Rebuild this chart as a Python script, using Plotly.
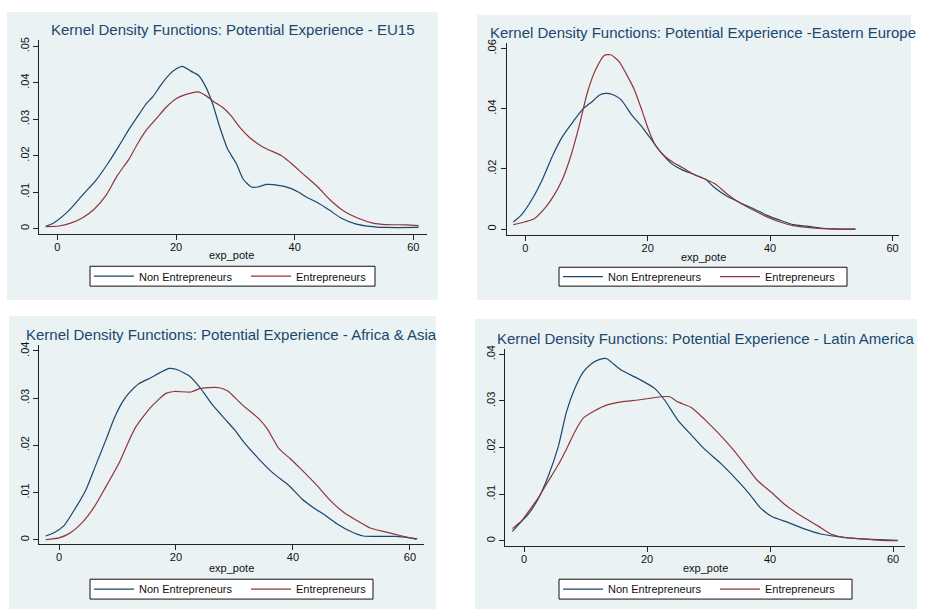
import plotly.graph_objects as go

W, H = 926, 610

# ---------------- data ----------------
panel_titles = [
    "Kernel Density Functions: Potential Experience - EU15",
    "Kernel Density Functions: Potential Experience -Eastern Europe",
    "Kernel Density Functions: Potential Experience - Africa & Asia",
    "Kernel Density Functions: Potential Experience - Latin America",
]
series_names = ["Non Entrepreneurs", "Entrepreneurs"]
x_label = "exp_pote"
x_ticks = [0, 20, 40, 60]
x_tick_text = ["0", "20", "40", "60"]
y_ticks_a = [0, 0.01, 0.02, 0.03, 0.04, 0.05]
y_tick_text_a = ["0", ".01", ".02", ".03", ".04", ".05"]
y_ticks_b = [0, 0.02, 0.04, 0.06]
y_tick_text_b = ["0", ".02", ".04", ".06"]
y_ticks_c = [0, 0.01, 0.02, 0.03, 0.04]
y_tick_text_c = ["0", ".01", ".02", ".03", ".04"]

eu15_non_x = [-1.97, -0.56, 1.97, 4.2, 6.5, 8.45, 10.4, 12.1, 13.8, 14.9, 16.1, 17.5, 18.9, 20.0, 21.1,
              22.5, 23.8, 25.1, 26.2, 27.3, 28.7, 30.2, 31.3, 32.7, 33.8, 35.2, 37.5, 39.2, 40.6, 42.0,
              43.9, 45.9, 47.8, 50.4, 52.6, 55.4, 60.9]
eu15_non_y = [.0006, .0016, .0050, .0091, .0132, .0177, .0227, .0273, .0314, .0341, .0362, .0395, .0423,
              .0438, .0445, .0432, .0420, .0386, .0341, .0282, .0218, .0177, .0136, .0114, .0114, .0121,
              .0118, .0111, .0100, .0086, .0071, .0050, .0029, .0012, .0006, .0003, .0003]
eu15_ent_x = [-1.97, 0.28, 2.25, 4.2, 6.2, 8.2, 10.1, 12.1, 13.5, 14.9, 16.6, 18.3, 20.0, 21.7, 23.7,
              25.1, 26.2, 27.9, 29.3, 30.8, 32.4, 34.7, 37.8, 39.4, 41.4, 43.9, 46.2, 48.4, 50.6, 53.2,
              55.4, 58.8, 60.9]
eu15_ent_y = [.0005, .0007, .0015, .0029, .0053, .0091, .0145, .0191, .0232, .0268, .0300, .0332, .0356,
              .0368, .0375, .0364, .0350, .0332, .0309, .0277, .0250, .0223, .0200, .0179, .0150, .0114,
              .0075, .0047, .0029, .0015, .0011, .0010, .0008]

ee_non_x = [-1.96, -0.71, 1.2, 2.83, 4.46, 6.09, 7.7, 9.35, 11.0, 12.07, 13.15, 14.24, 15.6, 17.5, 18.86,
            20.76, 22.4, 24.0, 25.65, 27.3, 29.5, 30.7, 32.9, 35.1, 37.3, 39.5, 41.6, 43.8, 46.0, 48.2,
            50.4, 53.95]
ee_non_y = [.0024, .0046, .0103, .0167, .0244, .0308, .0354, .0398, .0425, .0445, .0451, .0447, .0431,
            .0376, .0345, .0293, .0249, .0216, .0197, .0184, .0165, .0142, .0110, .0088, .0068, .0046,
            .0030, .0015, .0010, .0004, .0001, .0000]
ee_ent_x = [-1.96, -0.16, 1.47, 3.37, 4.73, 6.09, 7.45, 8.8, 10.2, 11.5, 12.9, 13.97, 15.3, 16.4, 17.8,
            19.1, 20.2, 21.3, 22.7, 24.3, 25.65, 27.3, 29.5, 31.0, 32.9, 35.1, 37.3, 39.5, 41.6, 43.8,
            46.5, 49.3, 53.95]
ee_ent_y = [.0015, .0024, .0035, .0074, .0114, .0167, .0244, .0343, .0458, .0530, .0577, .0579, .0557,
            .0519, .0464, .0392, .0326, .0277, .0244, .0220, .0205, .0184, .0165, .0151, .0118, .0087,
            .0063, .0041, .0024, .0012, .0005, .0001, .0000]

aa_non_x = [-2.29, -0.86, 0.86, 2.86, 4.57, 6.29, 8.0, 9.43, 10.86, 12.0, 13.71, 15.71, 17.43, 18.86, 20.0,
            22.29, 24.0, 26.29, 28.57, 30.0, 31.6, 34.1, 36.7, 39.3, 41.5, 43.5, 45.5, 47.5, 49.8, 52.0,
            54.9, 57.7, 60.0, 61.25]
aa_non_y = [.0008, .0015, .0030, .0068, .0105, .0158, .0211, .0257, .0292, .0311, .0331, .0343, .0355,
            .0363, .0361, .0347, .0324, .0285, .0253, .0233, .0207, .0172, .0140, .0115, .0087, .0068,
            .0052, .0034, .0018, .0008, .0007, .0007, .0004, .0002]
aa_ent_x = [-2.29, 0.0, 1.71, 4.0, 6.0, 8.0, 10.29, 12.0, 13.14, 15.71, 18.29, 19.71, 22.57, 24.0, 25.43,
            27.43, 28.86, 30.0, 31.6, 34.1, 35.6, 37.6, 39.5, 41.5, 44.1, 46.4, 48.6, 50.9, 53.2, 56.0,
            58.3, 61.1]
aa_ent_y = [.0000, .0004, .0013, .0037, .0069, .0112, .0163, .0211, .0239, .0281, .0310, .0314, .0313,
            .0320, .0322, .0322, .0315, .0302, .0283, .0257, .0235, .0193, .0172, .0148, .0115, .0083,
            .0059, .0041, .0025, .0016, .0009, .0001]

la_non_x = [-1.89, -0.65, 0.7, 2.32, 3.95, 5.57, 6.92, 8.27, 9.62, 10.97, 12.32, 13.4, 14.76, 16.1, 18.54,
            21.24, 22.86, 25.0, 27.2, 29.4, 31.9, 34.3, 36.5, 38.4, 40.3, 43.0, 45.7, 48.4, 51.1, 53.8,
            56.5, 60.8]
la_non_y = [.0020, .0038, .0057, .0090, .0139, .0202, .0277, .0327, .0362, .0380, .0389, .0391, .0377,
            .0364, .0348, .0327, .0302, .0259, .0227, .0196, .0167, .0135, .0103, .0071, .0052, .0039,
            .0025, .0014, .0009, .0005, .0003, .0001]
la_ent_x = [-1.89, -0.38, 0.97, 2.32, 3.95, 5.57, 6.92, 8.27, 9.62, 11.5, 13.4, 15.84, 18.54, 20.7, 22.3,
            23.68, 25.0, 27.2, 29.4, 31.6, 34.05, 35.95, 37.84, 40.3, 42.4, 45.1, 47.8, 50.0, 52.2, 54.9,
            58.1, 60.8]
la_ent_y = [.0026, .0043, .0067, .0092, .0128, .0163, .0197, .0234, .0263, .0279, .0291, .0298, .0302,
            .0306, .0309, .0309, .0298, .0286, .0260, .0231, .0195, .0163, .0131, .0103, .0078, .0053,
            .0032, .0014, .0007, .0004, .0001, .0000]

# ---------------- layout (pixel geometry of each panel) ----------------
NAVY = "#1a476f"
MAROON = "#90353b"
BG = "#eaf2f3"
FONT = "Liberation Sans, Arial, sans-serif"

panels = [
    dict(data=[(eu15_non_x, eu15_non_y), (eu15_ent_x, eu15_ent_y)],
         plot=(39, 427, 36, 232), xr=(-3.09, 62.3), yr=(-0.00163, 0.0518),
         yt=(y_ticks_a, y_tick_text_a), bg=(7, 438, 8, 298), title=(233, 26),
         lbox=(90, 375, 264, 284), litem=95, xlab=(232, 253)),
    dict(data=[(ee_non_x, ee_non_y), (ee_ent_x, ee_ent_y)],
         plot=(506.7, 899, 39, 233), xr=(-3.04, 61.06), yr=(-0.00208, 0.0619),
         yt=(y_ticks_b, y_tick_text_b), bg=(477, 911, 11, 298), title=(703, 29),
         lbox=(559, 847, 265, 284), litem=564, xlab=(703, 255)),
    dict(data=[(aa_non_x, aa_non_y), (aa_ent_x, aa_ent_y)],
         plot=(39, 424, 343, 544), xr=(-3.42, 62.4), yr=(-0.00099, 0.0413),
         yt=(y_ticks_c, y_tick_text_c), bg=(9, 436, 314, 609), title=(232, 333),
         lbox=(90, 373, 579, 599), litem=95, xlab=(231, 568)),
    dict(data=[(la_non_x, la_non_y), (la_ent_x, la_ent_y)],
         plot=(505, 905, 347, 546), xr=(-3.09, 61.95), yr=(-0.00121, 0.0412),
         yt=(y_ticks_c, y_tick_text_c), bg=(475, 917, 317, 609), title=(705.5, 337),
         lbox=(559, 852, 579, 599), litem=564, xlab=(705, 568)),
]

fig = go.Figure()
shapes, annotations = [], []
colors = [NAVY, MAROON]

for i, p in enumerate(panels):
    n = i + 1
    sfx = "" if n == 1 else str(n)
    lg = "legend" if n == 1 else f"legend{n}"
    for (xs, ys), name, col in zip(p["data"], series_names, colors):
        fig.add_trace(go.Scatter(
            x=xs, y=ys, mode="lines", name=name,
            line=dict(color=col, width=1.2, shape="spline", smoothing=0.6),
            xaxis="x" + sfx, yaxis="y" + sfx, legend=lg, hoverinfo="skip"))
    x0, x1, y0, y1 = p["plot"]
    ax = dict(
        domain=[x0 / W, x1 / W], range=list(p["xr"]), anchor="y" + sfx,
        tickvals=x_ticks, ticktext=x_tick_text, ticks="outside", ticklen=5,
        ticklabelstandoff=-3,
        tickcolor="#222", showline=True, linecolor="#222", linewidth=1,
        showgrid=False, zeroline=False, tickfont=dict(size=11, color="#111", family=FONT))
    ay = dict(
        domain=[1 - y1 / H, 1 - y0 / H], range=list(p["yr"]), anchor="x" + sfx,
        tickvals=p["yt"][0], ticktext=p["yt"][1], ticks="outside", ticklen=5,
        tickcolor="#222", showline=True, linecolor="#222", linewidth=1,
        showgrid=True, gridcolor=BG, gridwidth=1, zeroline=False, tickangle=-90,
        tickfont=dict(size=11, color="#111", family=FONT))
    fig.update_layout(**{"xaxis" + sfx: ax, "yaxis" + sfx: ay})

    bx0, bx1, by0, by1 = p["bg"]
    shapes.append(dict(type="rect", xref="paper", yref="paper", layer="below",
                       x0=bx0 / W, x1=bx1 / W, y0=1 - by1 / H, y1=1 - by0 / H,
                       fillcolor=BG, line=dict(width=0)))
    # legend frame
    lx0, lx1, ly0, ly1 = p["lbox"]
    shapes.append(dict(type="rect", xref="paper", yref="paper", layer="above",
                       x0=lx0 / W, x1=lx1 / W, y0=1 - ly1 / H, y1=1 - ly0 / H,
                       fillcolor="white", line=dict(width=1, color="#111")))
    tx, ty = p["title"]
    annotations.append(dict(text=panel_titles[i], xref="paper", yref="paper",
                            x=tx / W, y=1 - ty / H, xanchor="center", yanchor="middle",
                            showarrow=False, font=dict(size=15.0, color=NAVY, family=FONT)))
    gx, gy = p["xlab"]
    annotations.append(dict(text=x_label, xref="paper", yref="paper",
                            x=gx / W, y=1 - gy / H, xanchor="center", yanchor="middle",
                            showarrow=False, font=dict(size=11, color="#111", family=FONT)))
    fig.update_layout(**{lg: dict(
        x=(p["litem"] - 6) / W, y=1 - (ly0 + ly1) / 2 / H, xanchor="left", yanchor="middle",
        orientation="h", bgcolor="rgba(0,0,0,0)", borderwidth=0, itemwidth=40,
        font=dict(size=11, color="#111", family=FONT), entrywidth=102,
        itemclick=False, itemdoubleclick=False)})

fig.update_layout(
    width=W, height=H, margin=dict(l=0, r=0, t=0, b=0),
    paper_bgcolor="white", plot_bgcolor="white",
    shapes=shapes, annotations=annotations, showlegend=True,
    font=dict(family=FONT),
)

fig.write_html("out.html", config={"displayModeBar": False},
               post_script="document.body.style.margin='0px';")
